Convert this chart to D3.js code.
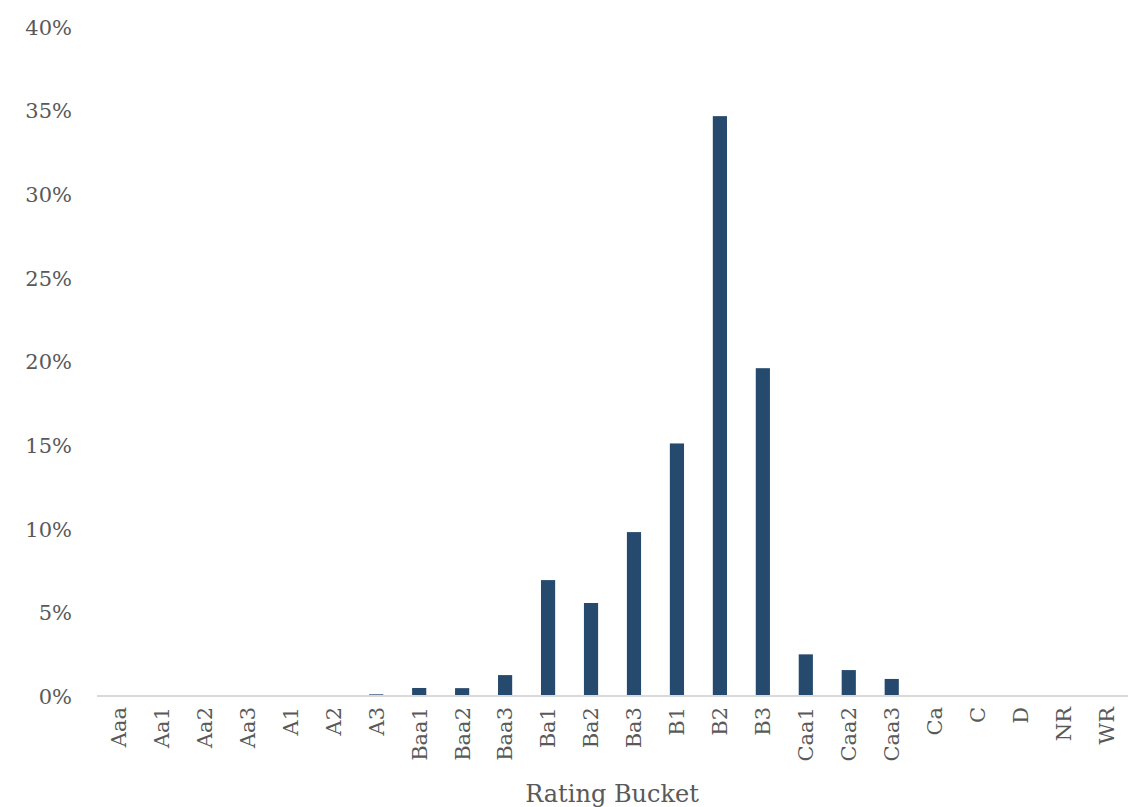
<!DOCTYPE html>
<html><head><meta charset="utf-8">
<script src="https://cdn.jsdelivr.net/npm/d3@7"></script>
<style>body{margin:0;background:#fff}svg{display:block}text{font-family:"DejaVu Serif",serif;fill:#595959}</style>
</head><body><svg id="c" width="1142" height="807"></svg>
<script>
const categories=["Aaa","Aa1","Aa2","Aa3","A1","A2","A3","Baa1","Baa2","Baa3","Ba1","Ba2","Ba3","B1","B2","B3","Caa1","Caa2","Caa3","Ca","C","D","NR","WR"];
const values=[0,0,0,0,0.0002,0.0005,0.001,0.0048,0.0047,0.0125,0.0693,0.0556,0.098,0.151,0.3467,0.196,0.0249,0.0155,0.0102,0.0005,0.0003,0,0,0];
const yTicks=[0,0.05,0.1,0.15,0.2,0.25,0.3,0.35,0.4];
const xTitle="Rating Bucket";

const svg=d3.select("#c");
const m={l:97,r:1128,t:27,b:696};
const x=d3.scaleBand().domain(categories).range([m.l,m.r]).paddingInner(0.67).paddingOuter(0.335);
const y=d3.scaleLinear().domain([0,0.4]).range([m.b,m.t]);

svg.append("g").selectAll("rect").data(values).join("rect")
 .attr("x",(d,i)=>x(categories[i])).attr("width",x.bandwidth())
 .attr("y",d=>y(d)).attr("height",d=>m.b-y(d)).attr("fill","#264a6e");

const ya=svg.append("g").attr("transform",`translate(${m.l},0)`)
 .call(d3.axisLeft(y).tickValues(yTicks).tickFormat(d3.format(".0%")).tickSize(0).tickPadding(25));
ya.select(".domain").remove();
ya.selectAll("text").attr("font-size",21).style("font-family","DejaVu Serif").attr("fill","#595959").attr("dy","0.35em");

const xa=svg.append("g").attr("transform",`translate(0,${m.b})`)
 .call(d3.axisBottom(x).tickSize(0));
xa.select(".domain").attr("stroke","#d9d9d9").attr("stroke-width",2).attr("d",`M${m.l},0H${m.r}`);
xa.selectAll("text").attr("font-size",21).style("font-family","DejaVu Serif").attr("fill","#595959")
 .attr("transform","rotate(-90)").attr("text-anchor","end").attr("x",-11).attr("y",0).attr("dy","0.35em");

svg.append("text").attr("x",612).attr("y",802).attr("text-anchor","middle").attr("font-size",24).text(xTitle);
</script></body></html>
